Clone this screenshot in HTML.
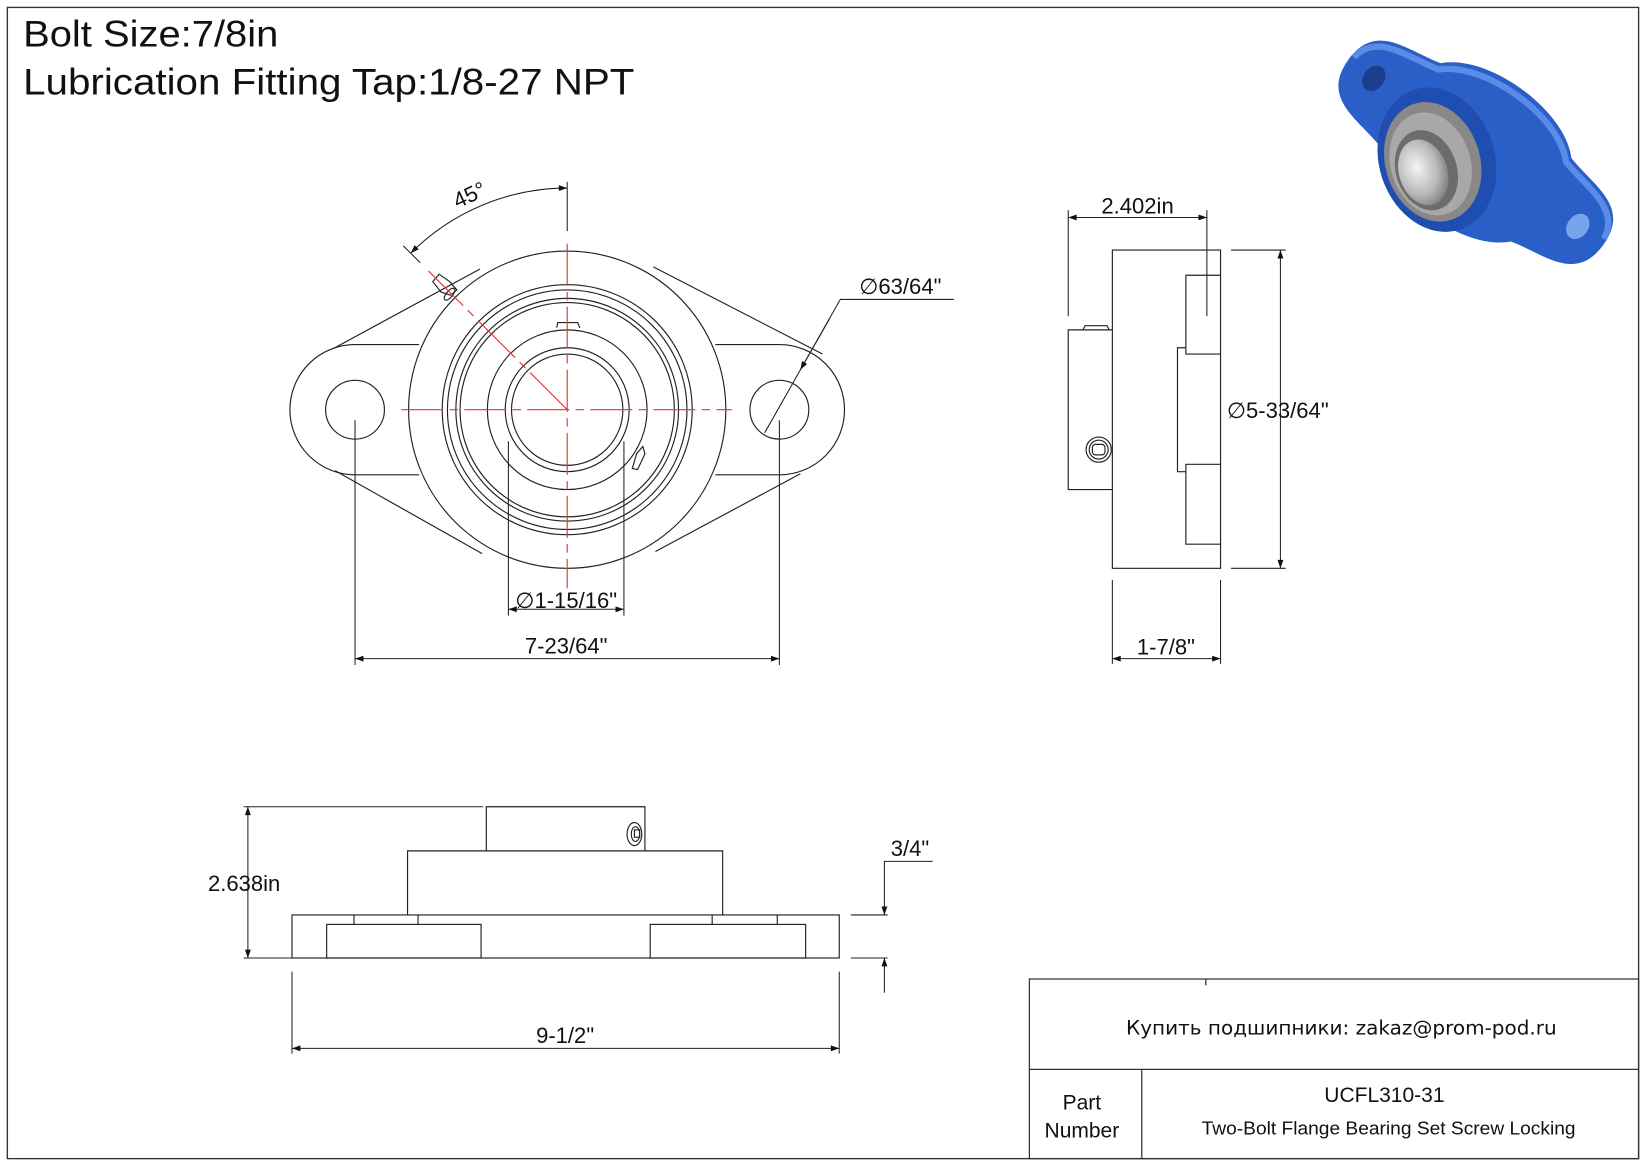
<!DOCTYPE html>
<html><head><meta charset="utf-8"><style>
html,body{margin:0;padding:0;background:#fff;}
svg{display:block;}
text{font-family:"Liberation Sans",sans-serif;fill:#111;}
</style></head><body>
<svg width="1647" height="1165" viewBox="0 0 1568 1109" xmlns="http://www.w3.org/2000/svg">
<defs>
<marker id="a" viewBox="0 0 10 10" refX="10" refY="5" markerWidth="14" markerHeight="8" orient="auto-start-reverse" markerUnits="userSpaceOnUse"><path d="M0,1.5 L10,5 L0,8.5 z" fill="#111"/></marker>
<radialGradient id="st" cx="0.4" cy="0.4" r="0.7"><stop offset="0" stop-color="#f4f4f4"/><stop offset="0.6" stop-color="#b8b8b8"/><stop offset="1" stop-color="#707070"/></radialGradient>
</defs>
<rect x="7" y="7" width="1553" height="1096" fill="none" stroke="#333" stroke-width="1.3"/>
<text x="22" y="44" font-size="35" textLength="243" lengthAdjust="spacingAndGlyphs">Bolt Size:7/8in</text>
<text x="22" y="90" font-size="35" textLength="582" lengthAdjust="spacingAndGlyphs">Lubrication Fitting Tap:1/8-27 NPT</text>

<!-- front view -->
<g fill="none" stroke="#222" stroke-width="1.1">
<path d="M338,328 A62,62 0 0 0 338,452"/>
<path d="M742,328 A62,62 0 0 1 742,452"/>
<line x1="338" y1="328" x2="399" y2="328"/><line x1="338" y1="452" x2="399" y2="452"/>
<line x1="681" y1="328" x2="742" y2="328"/><line x1="681" y1="452" x2="742" y2="452"/>
<line x1="317" y1="332" x2="457" y2="256"/><line x1="319" y1="448" x2="459" y2="527"/>
<line x1="622" y1="254" x2="783" y2="337"/><line x1="624" y1="525" x2="762" y2="451"/>
<circle cx="338" cy="390" r="28"/><circle cx="742" cy="390" r="28"/>
<circle cx="540" cy="390" r="151"/>
<circle cx="540" cy="390" r="119"/><circle cx="540" cy="390" r="114"/><circle cx="540" cy="390" r="106"/><circle cx="540" cy="390" r="102"/>
<circle cx="540" cy="390" r="76"/><circle cx="540" cy="390" r="59"/><circle cx="540" cy="390" r="53"/>
<path d="M530,312 L531,307 L550,307 L552,312"/>
<path d="M602,446 L606,432 L612,425 L614,432 L607,447 z"/>
<path d="M412,268 L418,261 L428,268 L435,276 L429,281 L420,278 z"/>
<ellipse cx="428" cy="280" rx="3" ry="7" transform="rotate(40 428 280)"/>
</g>
<g stroke="#e33" stroke-width="1.1" fill="none">
<line x1="382" y1="390" x2="697" y2="390" stroke-dasharray="40,6,8,6"/>
<line x1="540" y1="232" x2="540" y2="560" stroke-dasharray="40,6,8,6"/>
<line x1="540" y1="390" x2="408" y2="258" stroke-dasharray="50,6,8,6"/>
</g>
<g stroke="#222" stroke-width="1" fill="none">
<line x1="540" y1="173" x2="540" y2="220"/>
<path d="M391,241 A211,211 0 0 1 540,179" marker-start="url(#a)" marker-end="url(#a)"/>
<line x1="384" y1="234" x2="400" y2="250"/>
<path d="M728,412 L800,285 L908,285"/>
<line x1="790" y1="303" x2="762" y2="352" marker-end="url(#a)"/>
<line x1="338" y1="400" x2="338" y2="633"/><line x1="742" y1="400" x2="742" y2="633"/>
<line x1="338" y1="627" x2="742" y2="627" marker-start="url(#a)" marker-end="url(#a)"/>
<line x1="484" y1="420" x2="484" y2="586"/><line x1="594" y1="420" x2="594" y2="586"/>
<line x1="484" y1="580" x2="594" y2="580" marker-start="url(#a)" marker-end="url(#a)"/>
</g>
<text x="450" y="192" font-size="21" transform="rotate(-25 450 192)" text-anchor="middle">45°</text>
<text x="818" y="280" font-size="21">∅63/64"</text>
<text x="539" y="622" font-size="21" text-anchor="middle">7-23/64"</text>
<text x="539" y="579" font-size="21" text-anchor="middle">∅1-15/16"</text>

<!-- side view -->
<g fill="none" stroke="#222" stroke-width="1.1">
<rect x="1059" y="238" width="103" height="303"/>
<path d="M1162,262 L1129,262 L1129,337 L1162,337"/>
<path d="M1129,331 L1121,331 L1121,449 L1129,449"/>
<path d="M1162,442 L1129,442 L1129,518 L1162,518"/>
<path d="M1059,314 L1017,314 L1017,466 L1059,466"/>
<path d="M1031,314 L1033,310 L1054,310 L1056,314"/>
<circle cx="1046" cy="428" r="12"/><circle cx="1046" cy="428" r="9"/>
<rect x="1040" y="423" width="12" height="10" rx="3"/>
</g>
<g stroke="#222" stroke-width="1" fill="none">
<line x1="1017" y1="200" x2="1017" y2="301"/><line x1="1149" y1="200" x2="1149" y2="301"/>
<line x1="1017" y1="207" x2="1149" y2="207" marker-start="url(#a)" marker-end="url(#a)"/>
<line x1="1172" y1="238" x2="1224" y2="238"/><line x1="1172" y1="541" x2="1224" y2="541"/>
<line x1="1219" y1="238" x2="1219" y2="541" marker-start="url(#a)" marker-end="url(#a)"/>
<line x1="1059" y1="552" x2="1059" y2="632"/><line x1="1162" y1="552" x2="1162" y2="632"/>
<line x1="1059" y1="627" x2="1162" y2="627" marker-start="url(#a)" marker-end="url(#a)"/>
</g>
<text x="1083" y="203" font-size="21" text-anchor="middle">2.402in</text>
<text x="1168" y="398" font-size="21">∅5-33/64"</text>
<text x="1110" y="623" font-size="21" text-anchor="middle">1-7/8"</text>

<!-- bottom view -->
<g fill="none" stroke="#222" stroke-width="1.1">
<rect x="278" y="871" width="521" height="41"/>
<rect x="311" y="880" width="147" height="32"/>
<rect x="619" y="880" width="148" height="32"/>
<path d="M337,880 L337,871 M398,880 L398,871 M678,880 L678,871 M740,880 L740,871"/>
<path d="M388,871 L388,810 L688,810 L688,871"/>
<path d="M463,810 L463,768 L614,768 L614,810"/>
<ellipse cx="604" cy="794" rx="7" ry="11"/><ellipse cx="605" cy="794" rx="4" ry="7"/>
<rect x="604" y="790" width="5" height="7"/>
</g>
<g stroke="#222" stroke-width="1" fill="none">
<line x1="232" y1="768" x2="460" y2="768"/><line x1="232" y1="912" x2="278" y2="912"/>
<line x1="236" y1="768" x2="236" y2="912" marker-start="url(#a)" marker-end="url(#a)"/>
<line x1="810" y1="871" x2="845" y2="871"/><line x1="810" y1="912" x2="845" y2="912"/>
<path d="M888,820 L842,820 L842,871" marker-end="url(#a)"/>
<line x1="842" y1="945" x2="842" y2="912" marker-end="url(#a)"/>
<line x1="278" y1="925" x2="278" y2="1003"/><line x1="799" y1="925" x2="799" y2="1003"/>
<line x1="278" y1="998" x2="799" y2="998" marker-start="url(#a)" marker-end="url(#a)"/>
</g>
<text x="198" y="848" font-size="21">2.638in</text>
<text x="848" y="815" font-size="21">3/4"</text>
<text x="538" y="993" font-size="21" text-anchor="middle">9-1/2"</text>

<!-- title block -->
<g fill="none" stroke="#333" stroke-width="1.2">
<rect x="980" y="932" width="580" height="171"/>
<line x1="980" y1="1018" x2="1560" y2="1018"/>
<line x1="1087" y1="1018" x2="1087" y2="1103"/>
<line x1="1148" y1="932" x2="1148" y2="938"/>
</g>
<text x="1277" y="985" font-size="19" text-anchor="middle" style="font-family:'DejaVu Sans',sans-serif" textLength="410" lengthAdjust="spacingAndGlyphs">Купить подшипники: zakaz@prom-pod.ru</text>
<text x="1030" y="1056" font-size="20" text-anchor="middle">Part</text>
<text x="1030" y="1083" font-size="20" text-anchor="middle">Number</text>
<text x="1318" y="1049" font-size="20" text-anchor="middle">UCFL310-31</text>
<text x="1322" y="1080" font-size="18" text-anchor="middle" textLength="356" lengthAdjust="spacingAndGlyphs">Two-Bolt Flange Bearing Set Screw Locking</text>

<!-- 3D image -->
<g transform="rotate(36 1405 145)">
<path d="M1255,145 C1255,100 1295,105 1328,96 C1360,62 1450,62 1482,96 C1515,105 1555,100 1555,145 C1555,190 1515,185 1482,194 C1450,228 1360,228 1328,194 C1295,185 1255,190 1255,145 z" fill="#2a5fc8"/>
<path d="M1258,140 C1262,108 1298,110 1330,102 C1362,70 1450,70 1480,102 C1512,110 1548,108 1552,140" fill="none" stroke="#5a8be6" stroke-width="6"/>
<ellipse cx="1285" cy="145" rx="10" ry="13" fill="#1a3f8e"/>
<ellipse cx="1525" cy="145" rx="10" ry="13" fill="#7aa3ee"/>
</g>
<ellipse cx="1368" cy="152" rx="55" ry="70" fill="#1f4db0" transform="rotate(-18 1368 152)"/>
<ellipse cx="1364" cy="154" rx="45" ry="58" fill="#888" transform="rotate(-18 1364 154)"/>
<ellipse cx="1362" cy="156" rx="38" ry="50" fill="#a8a8a8" transform="rotate(-18 1362 156)"/>
<ellipse cx="1358" cy="162" rx="29" ry="39" fill="#6c6c6c" transform="rotate(-18 1358 162)"/>
<ellipse cx="1355" cy="164" rx="23" ry="32" fill="url(#st)" transform="rotate(-18 1355 164)"/>
</svg>
</body></html>
